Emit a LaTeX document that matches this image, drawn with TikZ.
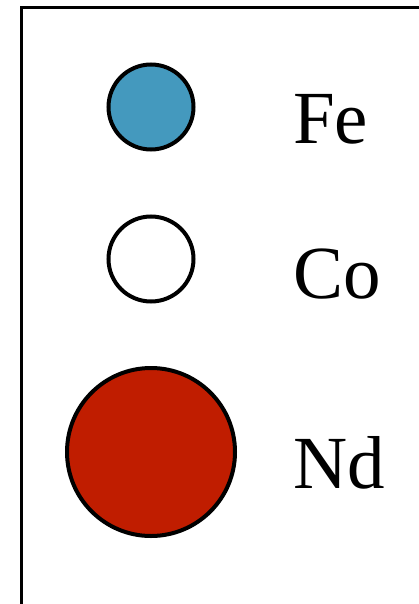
\documentclass[tikz,border=0pt]{standalone}
\usepackage{fontspec}
\setmainfont{Liberation Serif}
\definecolor{feblue}{HTML}{4499BE}
\definecolor{ndred}{HTML}{C01D00}
\begin{document}
\begin{tikzpicture}[x=1pt,y=-1pt,
  atom/.style={circle,draw=black,line width=4pt,inner sep=0pt},
  lbl/.style={anchor=base west,inner sep=0pt,font=\fontsize{75}{80}\selectfont}]
\useasboundingbox (0,0) rectangle (419,604);
\draw[line width=3pt] (21,604) -- (21,8) -- (419,8);
\node[atom,fill=feblue,minimum size=85pt] (fe) at (151,107) {};
\node[atom,fill=white,minimum size=85pt] (co) at (151,259) {};
\node[atom,fill=ndred,minimum size=168pt] (nd) at (151,452) {};
\node[lbl] (tfe) at (293,143) {Fe};
\node[lbl] (tco) at (293,298) {Co};
\node[lbl] (tnd) at (293,488) {Nd};
\end{tikzpicture}
\end{document}
